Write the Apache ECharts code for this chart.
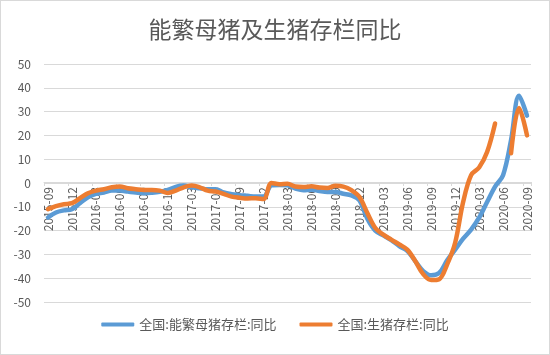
<!DOCTYPE html>
<html>
<head>
<meta charset="utf-8">
<script src="https://cdn.jsdelivr.net/npm/echarts@6/dist/echarts.min.js"></script>
<style>
html,body{margin:0;padding:0;background:#fff;}
#c{width:550px;height:355px;box-sizing:border-box;border:1px solid #d9d9d9;}
</style>
</head>
<body>
<div id="c"></div>
<script>
const months = [
 '2015-09','2015-10','2015-11','2015-12',
 '2016-01','2016-02','2016-03','2016-04','2016-05','2016-06','2016-07','2016-08','2016-09','2016-10','2016-11','2016-12',
 '2017-01','2017-02','2017-03','2017-04','2017-05','2017-06','2017-07','2017-08','2017-09','2017-10','2017-11','2017-12',
 '2018-01','2018-02','2018-03','2018-04','2018-05','2018-06','2018-07','2018-08','2018-09','2018-10','2018-11','2018-12',
 '2019-01','2019-02','2019-03','2019-04','2019-05','2019-06','2019-07','2019-08','2019-09','2019-10','2019-11','2019-12',
 '2020-01','2020-02','2020-03','2020-04','2020-05','2020-06','2020-07','2020-08','2020-09'
];
const sowYoY = [
 -14.5,-12.4,-11.5,-11,
 -8.5,-6,-4.6,-4,-3.2,-3.2,-3.6,-4,-4.3,-4.1,-3.7,-2.9,
 -1.6,-1.1,-1.8,-2.2,-2.6,-2.6,-4,-4.7,-5.1,-5.4,-5.7,-5.7,
 -1,-0.8,-1,-2.3,-3,-2.8,-3.4,-3.8,-3.8,-4.5,-5.2,-7.2,
 -15,-20,-22,-24,-26.5,-28.5,-32.8,-37,-38.8,-37.8,-32.5,-28,
 -23.4,-19.6,-14.6,-8,-1.5,3.3,18,36.7,28.3
];
const hogYoY = [
 -11,-9.7,-8.9,-8.5,
 -6.4,-4.3,-3.2,-2.6,-1.8,-1.5,-2.2,-2.6,-2.9,-2.9,-3.2,-4.2,
 -3.2,-1.8,-1.1,-1.8,-3.2,-3.6,-4.6,-5.7,-6.2,-6.5,-6.4,-6.7,
 0,-0.5,-0.3,-1.5,-1.7,-1.4,-1.9,-2.1,-1.2,-1.5,-3.0,-5.8,
 -12.6,-18.9,-21.7,-23.8,-25.8,-28,-32.8,-38.3,-40.8,-40.4,-34.2,-25.1,
 -8,3.3,6.5,13,25,null,12.5,31.5,20
];
const seriesNames = ['全国:能繁母猪存栏:同比','全国:生猪存栏:同比'];
const yTicks = {min:-50, max:50, interval:10};

const chart = echarts.init(document.getElementById('c'), null, {renderer:'canvas'});
const txt = '#595959';
const font = '"Noto Sans CJK SC", "Noto Sans", sans-serif';
const gridTop = 63, gridBottom = 52, plotH = 355 - gridTop - gridBottom;
// place category axis at value 0
const zeroOffset = -plotH * (0 - yTicks.min) / (yTicks.max - yTicks.min);
chart.setOption({
  animation:false,
  title:{
    text:'能繁母猪及生猪存栏同比',
    left:'center', top:12,
    textStyle:{color:txt, fontSize:23, fontWeight:'normal', fontFamily:font}
  },
  legend:{
    bottom:18, left:'center',
    itemWidth:33, itemHeight:4, itemGap:23,
    icon:'roundRect',
    textStyle:{color:txt, fontSize:13, fontFamily:font},
    data:seriesNames
  },
  grid:{left:43, right:18, top:gridTop, bottom:gridBottom},
  xAxis:{
    type:'category',
    data:months,
    boundaryGap:true,
    position:'bottom',
    offset:zeroOffset,
    axisLine:{onZero:false, lineStyle:{color:'#d9d9d9', width:1}},
    axisTick:{show:true, interval:2, length:4, lineStyle:{color:'#d9d9d9'}},
    axisLabel:{interval:2, rotate:90, color:txt, fontSize:12, fontFamily:font, margin:5}
  },
  yAxis:{
    type:'value',
    min:yTicks.min, max:yTicks.max, interval:yTicks.interval,
    axisLine:{show:false}, axisTick:{show:false},
    splitLine:{lineStyle:{color:'#d9d9d9', width:1}},
    axisLabel:{color:txt, fontSize:12, fontFamily:font, margin:13}
  },
  series:[
    {name:seriesNames[0], type:'line', data:sowYoY, smooth:0.35, showSymbol:false,
     lineStyle:{color:'#5B9BD5', width:4.5, cap:'round', join:'round'}, itemStyle:{color:'#5B9BD5'}},
    {name:seriesNames[1], type:'line', data:hogYoY, smooth:0.35, showSymbol:false, connectNulls:false,
     lineStyle:{color:'#ED7D31', width:4.5, cap:'round', join:'round'}, itemStyle:{color:'#ED7D31'}}
  ]
});
</script>
</body>
</html>
